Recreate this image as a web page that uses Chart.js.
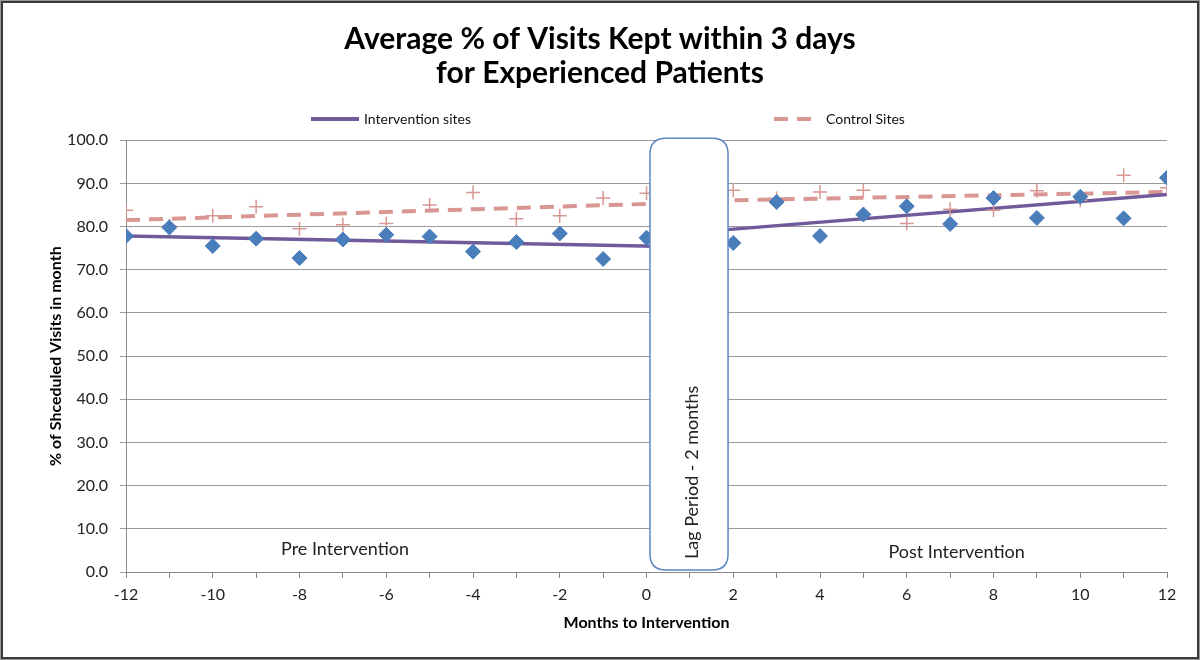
<!DOCTYPE html>
<html><head><meta charset="utf-8">
<script src="https://cdn.jsdelivr.net/npm/chart.js@4/dist/chart.umd.min.js"></script>
<style>html,body{margin:0;padding:0;background:#fff}#wrap{width:1200px;height:660px;position:relative}</style>
</head><body><div id="wrap"><canvas id="c" width="1200" height="660"></canvas></div>
<script>
// ---- data ----
const months = [-12,-11,-10,-9,-8,-7,-6,-5,-4,-3,-2,-1,0,2,3,4,5,6,7,8,9,10,11,12];
const interventionValues = [77.8,79.8,75.5,77.2,72.7,77.0,78.1,77.7,74.2,76.4,78.4,72.5,77.4,76.2,85.7,77.8,82.8,84.7,80.6,86.6,82.0,86.9,81.9,91.3];
const controlValues = [83.8,80.2,82.5,84.6,79.5,80.4,80.7,85.0,87.9,81.8,82.5,86.6,87.7,88.4,86.5,88.0,88.4,80.7,84.0,83.8,88.3,86.1,91.9,89.0];
const trendMonths = [-12, 0.5, 1, 1.5, 12];
const interventionTrend = [77.8, 75.4, null, 79.0, 87.4];
const controlTrend = [81.5, 85.4, null, 86.0, 88.0];
const seriesLabels = ['Intervention sites', 'Control Sites'];
const titleLines = ['Average % of Visits Kept within 3 days', 'for Experienced Patients'];
const xTitle = 'Months to Intervention';
const yTitle = '% of Shceduled Visits in month';
const periodLabels = ['Pre Intervention', 'Post Intervention', 'Lag Period - 2 months'];

const FONT = 'Lato, "Open Sans", sans-serif';
const toPts = (xs, ys) => xs.map((x, i) => ({x, y: ys[i]}));

const overlay = {
  id: 'overlay',
  beforeDraw(chart) {
    const c = chart.ctx;
    c.save();
    c.fillStyle = '#fff';
    c.fillRect(0, 0, chart.width, chart.height);
    c.restore();
  },
  afterDatasetsDraw(chart) {
    const c = chart.ctx, xs = chart.scales.x, ys = chart.scales.y;
    c.save();
    // lag period box
    const l = xs.getPixelForValue(0.08), r = xs.getPixelForValue(1.88);
    const t = ys.getPixelForValue(100) - 2, b = ys.getPixelForValue(0) - 2;
    const rad = 16;
    c.beginPath();
    c.moveTo(l + rad, t);
    c.lineTo(r - rad, t); c.quadraticCurveTo(r, t, r, t + rad);
    c.lineTo(r, b - rad); c.quadraticCurveTo(r, b, r - rad, b);
    c.lineTo(l + rad, b); c.quadraticCurveTo(l, b, l, b - rad);
    c.lineTo(l, t + rad); c.quadraticCurveTo(l, t, l + rad, t);
    c.closePath();
    c.fillStyle = '#fff'; c.fill();
    c.strokeStyle = '#5b87c0'; c.lineWidth = 1.5; c.stroke();
    c.fillStyle = '#222';
    c.font = '18px ' + FONT;
    c.textAlign = 'center'; c.textBaseline = 'middle';
    c.fillText(periodLabels[0], xs.getPixelForValue(-6.95), ys.getPixelForValue(5.3));
    c.fillText(periodLabels[1], xs.getPixelForValue(7.15), ys.getPixelForValue(4.6));
    c.translate(xs.getPixelForValue(1.05), ys.getPixelForValue(23.1));
    c.rotate(-Math.PI / 2);
    c.fillText(periodLabels[2], 0, 0);
    c.restore();
  },
  afterDraw(chart) {
    const c = chart.ctx;
    c.save();
    // legend
    const ly = 119;
    c.lineWidth = 4;
    c.strokeStyle = '#6f5a9a';
    c.beginPath(); c.moveTo(311, ly); c.lineTo(359, ly); c.stroke();
    c.strokeStyle = '#d99794';
    c.setLineDash([14, 9]);
    c.beginPath(); c.moveTo(774, ly); c.lineTo(811, ly); c.stroke();
    c.setLineDash([]);
    c.fillStyle = '#111';
    c.font = '14px ' + FONT;
    c.textAlign = 'left'; c.textBaseline = 'middle';
    c.fillText(seriesLabels[0], 364, ly);
    c.fillText(seriesLabels[1], 826, ly);
    // frame
    c.strokeStyle = '#9a9a9a'; c.lineWidth = 1;
    c.strokeRect(0.5, 0.5, chart.width - 1, chart.height - 1);
    c.strokeStyle = '#3a3a3a'; c.lineWidth = 2;
    c.strokeRect(2, 2, chart.width - 4, chart.height - 4);
    c.restore();
  }
};

new Chart(document.getElementById('c'), {
  type: 'scatter',
  data: {
    datasets: [
      { label: seriesLabels[0] + ' data', data: toPts(months, interventionValues), order: 0,
        pointStyle: 'rectRot', pointRadius: 7.5, pointHoverRadius: 7.5,
        backgroundColor: '#4a7ebb', borderColor: '#4a7ebb', borderWidth: 1, showLine: false },
      { label: seriesLabels[1] + ' data', data: toPts(months, controlValues), order: 0,
        pointStyle: 'cross', pointRadius: 7, pointHoverRadius: 7,
        borderColor: '#d99794', backgroundColor: '#d99794', borderWidth: 1.5, showLine: false },
      { label: seriesLabels[0], data: toPts(trendMonths, interventionTrend), order: 1,
        showLine: true, spanGaps: false, borderColor: '#6f5a9a', borderWidth: 3.5,
        pointRadius: 0, pointHoverRadius: 0, fill: false },
      { label: seriesLabels[1], data: toPts(trendMonths, controlTrend), order: 2,
        showLine: true, spanGaps: false, borderColor: '#d99794', borderWidth: 4, borderDash: [14, 9],
        pointRadius: 0, pointHoverRadius: 0, fill: false }
    ]
  },
  options: {
    responsive: false,
    animation: false,
    events: [],
    layout: { padding: { left: 33, right: 33, top: 10, bottom: 10 } },
    plugins: {
      legend: { display: false },
      tooltip: { enabled: false },
      title: {
        display: true, text: titleLines, color: '#000',
        font: { family: FONT, size: 30, weight: 'bold', lineHeight: 1.12 },
        padding: { top: 13, bottom: 50 }
      }
    },
    scales: {
      x: {
        type: 'linear', min: -12, max: 12,
        afterFit(s) { s.height = 78; },
        ticks: { stepSize: 1, autoSkip: false, maxRotation: 0, padding: 7, color: '#222',
          font: { family: FONT, size: 16 },
          callback: v => (v % 2 === 0 ? String(v) : '') },
        grid: { drawOnChartArea: false, drawTicks: true, tickLength: 6, color: '#8a8a8a' },
        border: { color: '#8a8a8a' },
        title: { display: true, text: xTitle, color: '#000',
          font: { family: FONT, size: 16, weight: 'bold' }, padding: { top: 0, bottom: 18 } }
      },
      y: {
        min: 0, max: 100,
        afterFit(s) { s.width = 93; },
        ticks: { stepSize: 10, padding: 12, color: '#222', font: { family: FONT, size: 16 },
          callback: v => Number(v).toFixed(1) },
        grid: { color: '#9a9a9a', drawTicks: true, tickLength: 6 },
        border: { color: '#8a8a8a' },
        title: { display: true, text: yTitle, color: '#000',
          font: { family: FONT, size: 16, weight: 'bold' }, padding: { top: 13, bottom: 0 } }
      }
    }
  },
  plugins: [overlay]
});
</script>
</body></html>
